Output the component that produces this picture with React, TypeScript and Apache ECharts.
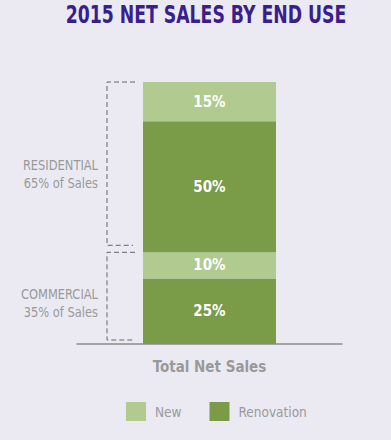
import React, { useEffect, useRef } from "react";
import * as echarts from "echarts";

const categories = ["Total Net Sales"];
const commercialRenovation = [25];
const commercialNew = [10];
const residentialRenovation = [50];
const residentialNew = [15];
const legendNames = ["New", "Renovation"];
const groups = [
  { name: "RESIDENTIAL", share: "65% of Sales", from: 100, to: 35 },
  { name: "COMMERCIAL", share: "35% of Sales", from: 35, to: 0 },
];

const FONT = "'DejaVu Sans Condensed', 'DejaVu Sans', Arial, sans-serif";
const LIGHT = "#b1ca8f";
const DARK = "#7a9b47";
const GRAY = "#999999";

export default function App() {
  const ref = useRef<HTMLDivElement>(null);
  useEffect(() => {
    if (!ref.current) return;
    const chart = echarts.init(ref.current, null, { renderer: "svg" });
    const label = {
      show: true,
      position: "inside",
      formatter: "{c}%",
      color: "#ffffff",
      fontWeight: "bold",
      fontSize: 15,
      fontFamily: FONT,
    };
    const mk = (name: string, data: number[], color: string) => ({
      name,
      type: "bar",
      stack: "total",
      data,
      barWidth: 133,
      itemStyle: { color },
      label,
    });
    chart.setOption({
      animation: false,
      backgroundColor: "#ebeaf3",
      legend: {
        data: legendNames,
        top: 397,
        left: 121,
        itemWidth: 20,
        itemHeight: 19,
        itemGap: 28,
        icon: "rect",
        textStyle: { color: GRAY, fontSize: 13.5, fontFamily: FONT, padding: [0, 0, 0, 4] },
      },
      grid: { left: 77, right: 49, top: 82, bottom: 96 },
      xAxis: {
        type: "category",
        data: categories,
        axisLine: { lineStyle: { color: "#8c8c8c", width: 1.5 } },
        axisTick: { show: false },
        axisLabel: { color: GRAY, fontSize: 15, fontWeight: "bold", fontFamily: FONT, margin: 15 },
      },
      yAxis: { type: "value", min: 0, max: 100, show: false },
      series: [
        mk("Renovation", commercialRenovation, DARK),
        mk("New", commercialNew, LIGHT),
        mk("Renovation", residentialRenovation, DARK),
        mk("New", residentialNew, LIGHT),
      ],
    });

    const elements: any[] = [
      {
        type: "text",
        x: 206,
        y: 15,
        scaleX: 0.8,
        style: {
          text: "2015 NET SALES BY END USE",
          align: "center",
          verticalAlign: "middle",
          fill: "#3a1e8c",
          font: `bold 24px ${FONT}`,
        },
      },
    ];
    const xLine = 107;
    groups.forEach((g, i) => {
      const yTop = chart.convertToPixel({ yAxisIndex: 0 }, g.from) as number;
      const yBot0 = chart.convertToPixel({ yAxisIndex: 0 }, g.to) as number;
      const yBot = yBot0 - (i === 0 ? 7 : 4);
      const dash = { stroke: "#666666", lineWidth: 1, lineDash: [5, 3], fill: null };
      elements.push({
        type: "polyline",
        shape: { points: [[135, yTop], [xLine, yTop], [xLine, yBot], [133, yBot]] },
        style: dash,
        silent: true,
      });
      const mid = (yTop + yBot) / 2;
      const off = i === 0 ? 1 : -2.5;
      [g.name, g.share].forEach((t, k) => {
        elements.push({
          type: "text",
          x: 98,
          y: mid + off + k * 18,
          scaleX: 0.88,
          style: {
            text: t,
            align: "right",
            verticalAlign: "middle",
            fill: GRAY,
            font: `14.5px ${FONT}`,
          },
        });
      });
    });
    chart.setOption({ graphic: elements });
    return () => chart.dispose();
  }, []);
  return (
    <div
      ref={ref}
      style={{ position: "fixed", left: 0, top: 0, width: 391, height: 440 }}
    />
  );
}
